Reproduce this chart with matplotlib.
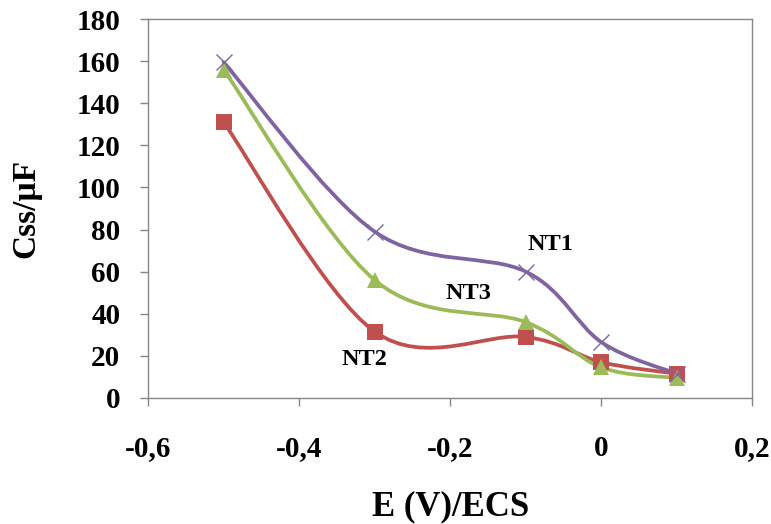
import numpy as np
import matplotlib.pyplot as plt
from matplotlib.path import Path
from matplotlib.patches import PathPatch

# Data
potential = [-0.5, -0.3, -0.1, 0.0, 0.1]
css_nt1 = [159.5, 79, 60, 26.5, 11.5]
css_nt2 = [131, 31.5, 29, 17, 11.5]
css_nt3 = [156, 56, 36, 14.5, 9.5]

plt.rcParams['font.family'] = ['Liberation Serif', 'DejaVu Serif']
plt.rcParams['font.weight'] = 'bold'


def smooth_path(x, y):
    # Excel style smoothed line: cubic Bezier through the points
    x = np.asarray(x, float)
    y = np.asarray(y, float)
    px = np.concatenate([[x[0]], x, [x[-1]]])
    py = np.concatenate([[y[0]], y, [y[-1]]])
    verts = [(x[0], y[0])]
    codes = [Path.MOVETO]
    for i in range(1, len(x)):
        c1 = (px[i] + (px[i + 1] - px[i - 1]) / 6, py[i] + (py[i + 1] - py[i - 1]) / 6)
        c2 = (px[i + 1] - (px[i + 2] - px[i]) / 6, py[i + 1] - (py[i + 2] - py[i]) / 6)
        verts += [c1, c2, (px[i + 1], py[i + 1])]
        codes += [Path.CURVE4] * 3
    return Path(verts, codes)


fig = plt.figure(figsize=(7.71, 5.24), dpi=100)
ax = fig.add_axes([0.192, 0.2405, 0.784, 0.7232])

series = [
    (css_nt2, '#C0504D', dict(marker='s', markersize=11, markeredgewidth=0)),
    (css_nt3, '#9BBB59', dict(marker='^', markersize=11.5, markeredgewidth=0)),
    (css_nt1, '#8064A2', dict(marker='x', markersize=11, markeredgewidth=1.0)),
]
for vals, col, mk in series:
    ax.add_patch(PathPatch(smooth_path(potential, vals), facecolor='none',
                           edgecolor=col, linewidth=2.7, capstyle='round'))
    ax.plot(potential, vals, linestyle='none', color=col, **mk)

ax.text(-0.068, 73, 'NT1', fontsize=17.5, ha='center', va='center')
ax.text(-0.176, 49.5, 'NT3', fontsize=17.5, ha='center', va='center')
ax.text(-0.314, 18.5, 'NT2', fontsize=17.5, ha='center', va='center')

ax.set_xlim(-0.6, 0.2)
ax.set_ylim(0, 180)
ax.set_xticks([-0.6, -0.4, -0.2, 0, 0.2])
ax.set_xticklabels(['-0,6', '-0,4', '-0,2', '0', '0,2'])
ax.set_yticks(range(0, 181, 20))
ax.tick_params(axis='both', direction='out', length=6, width=1, color='#868686',
               labelsize=21)
ax.tick_params(axis='x', pad=21)
ax.tick_params(axis='y', pad=14)
for s in ax.spines.values():
    s.set_color('#868686')
    s.set_linewidth(1)

ax.set_xlabel('E (V)/ECS', fontsize=25, fontweight='bold', labelpad=20)
ax.set_ylabel('Css/µF', fontsize=24, fontweight='bold', labelpad=25)

fig.savefig('out.png', dpi=100)
